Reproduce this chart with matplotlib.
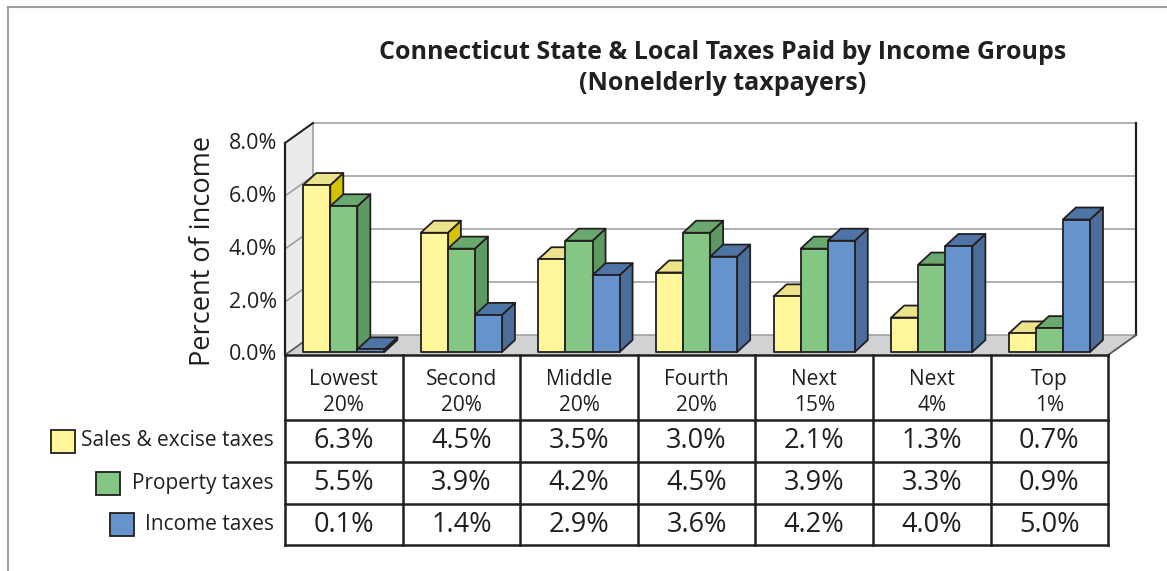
import matplotlib
matplotlib.use("Agg")
import matplotlib.pyplot as plt
from matplotlib.patches import Polygon, Rectangle

plt.rcParams['font.family'] = ['Open Sans', 'DejaVu Sans']

# ---------------- data ----------------
groups = ["Lowest\n20%", "Second\n20%", "Middle\n20%", "Fourth\n20%",
          "Next\n15%", "Next\n4%", "Top\n1%"]
series_names = ["Sales & excise taxes", "Property taxes", "Income taxes"]
sales = [6.3, 4.5, 3.5, 3.0, 2.1, 1.3, 0.7]
prop = [5.5, 3.9, 4.2, 4.5, 3.9, 3.3, 0.9]
income = [0.1, 1.4, 2.9, 3.6, 4.2, 4.0, 5.0]
yticks = [0, 2, 4, 6, 8]
title = "Connecticut State & Local Taxes Paid by Income Groups\n(Nonelderly taxpayers)"
ylabel = "Percent of income"

# ---------------- styles ----------------
W, H = 1167, 571
front_cols = ["#fff599", "#84c784", "#6693cc"]
top_cols = ["#ede38a", "#6aa96d", "#4f75a6"]
side_cols = ["#d4c400", "#5f9962", "#4b6d9b"]
EDGE = "#231f20"
TXT = "#231f20"

fig = plt.figure(figsize=(W / 100, H / 100), dpi=100)
ax = fig.add_axes([0, 0, 1, 1])
ax.set_axis_off()

# mapping of data to pixels: x group units, y percent
X0, PXX = 285.0, 117.6
Y0, PXY = 355.0, 26.5
ax.set_xlim(-X0 / PXX, (W - X0) / PXX)
ax.set_ylim(-(H - Y0) / PXY, Y0 / PXY)

n = len(groups)
ymax = yticks[-1]
ddx, ddy = 28 / PXX, 20 / PXY        # wall depth
bdx, bdy = 13 / PXX, 12 / PXY        # bar depth
base = 0.15 * ddy                    # bars slightly behind front edge
bw = 0.23


def pix(x, y):
    """pixel (from top-left) -> figure fraction"""
    return x / W, 1 - y / H


# walls and floor
ax.add_patch(Polygon([(0, 0), (0, ymax), (ddx, ymax + ddy), (ddx, ddy)],
                     closed=True, facecolor="#ebebeb", edgecolor="none", zorder=1))
ax.add_patch(Polygon([(ddx, ddy), (n + ddx, ddy), (n + ddx, ymax + ddy), (ddx, ymax + ddy)],
                     closed=True, facecolor="white", edgecolor="none", zorder=1))
ax.add_patch(Polygon([(0, 0), (n, 0), (n + ddx, ddy), (ddx, ddy)],
                     closed=True, facecolor="#d1d2d4", edgecolor="none", zorder=1))
for yv in yticks[1:]:
    ax.plot([0, ddx, n + ddx], [yv, yv + ddy, yv + ddy], color="#9a9a9a", lw=1.1, zorder=2)
ax.plot([ddx, ddx], [ddy, ymax + ddy], color="#9a9a9a", lw=1.1, zorder=2)
ax.plot([ddx, n + ddx], [ddy, ddy], color="#9a9a9a", lw=1.1, zorder=2)
ax.plot([n + ddx, n + ddx], [ddy, ymax + ddy], color=EDGE, lw=1.6, zorder=2)
ax.plot([n, n + ddx], [0, ddy], color="#555555", lw=1.3, zorder=2)
ax.plot([0, ddx], [ymax, ymax + ddy], color=EDGE, lw=1.4, zorder=2)
ax.plot([0, ddx], [0, ddy], color="#555555", lw=1.2, zorder=2)
ax.plot([0, 0], [0, ymax], color=EDGE, lw=1.6, zorder=6)
ax.plot([0, n], [0, 0], color=EDGE, lw=1.8, zorder=6)

# bars
all_vals = [sales, prop, income]
z = 3
for i in range(n):
    for j, vals in enumerate(all_vals):
        v = vals[i]
        xl = i + 0.5 + (j - 1.5) * bw
        yb, yt = base, base + v
        kw = dict(edgecolor=EDGE, lw=1.3, joinstyle="round", zorder=z)
        ax.add_patch(Polygon([(xl + bw, yb), (xl + bw + bdx, yb + bdy),
                              (xl + bw + bdx, yt + bdy), (xl + bw, yt)],
                             closed=True, facecolor=side_cols[j], **kw))
        ax.add_patch(Polygon([(xl, yt), (xl + bw, yt), (xl + bw + bdx, yt + bdy),
                              (xl + bdx, yt + bdy)],
                             closed=True, facecolor=top_cols[j], **kw))
        ax.add_patch(Rectangle((xl, yb), bw, v, facecolor=front_cols[j], **kw))
        z += 0.01

# y tick labels
for yv in yticks:
    ax.text(-8 / PXX, yv, f"{yv:.1f}%", ha="right", va="center",
            fontsize=15.5, color=TXT)
fig.text(*pix(203, 251), ylabel, rotation=90, ha="center", va="center",
         fontsize=19.5, color=TXT)

# title
fig.text(*pix(723, 68), title, ha="center", va="center", fontsize=18,
         fontweight="bold", color=TXT, linespacing=1.3)

# table
row_edges = [355, 420, 462, 504, 545]
row_lines_y = [(Y0 - p) / PXY for p in row_edges]
ytop, ybot = row_lines_y[0], row_lines_y[-1]
for k in range(n + 1):
    ax.plot([k, k], [ytop, ybot], color=EDGE, lw=1.8, zorder=6, solid_capstyle="projecting")
for yy in row_lines_y[1:]:
    ax.plot([0, n], [yy, yy], color=EDGE, lw=1.8, zorder=6, solid_capstyle="projecting")

for i, g in enumerate(groups):
    ax.text(i + 0.5, (Y0 - 392.5) / PXY, g, ha="center", va="center", fontsize=15,
            color=TXT, linespacing=1.28)
    for r, vals in enumerate(all_vals):
        yc = (row_edges[r + 1] + row_edges[r + 2]) / 2
        ax.text(i + 0.5, (Y0 - yc) / PXY, f"{vals[i]:.1f}%", ha="center", va="center",
                fontsize=19.5, color=TXT)

# legend
sq_x = [51, 96, 110]
for r, name in enumerate(series_names):
    yc = (row_edges[r + 1] + row_edges[r + 2]) / 2
    x0, y0 = pix(sq_x[r], yc + 11.5)
    fig.patches.append(Rectangle((x0, y0), 24 / W, 23 / H, transform=fig.transFigure,
                                 facecolor=front_cols[r], edgecolor=EDGE, lw=1.3))
    fig.text(*pix(274, yc), name, ha="right", va="center", fontsize=15, color=TXT)

# frame
fig.add_artist(plt.Line2D([8 / W, 8 / W], [0, 1 - 7 / H], transform=fig.transFigure,
                          color="#a0a0a0", lw=1.5))
fig.add_artist(plt.Line2D([8 / W, 1], [1 - 7 / H, 1 - 7 / H], transform=fig.transFigure,
                          color="#a0a0a0", lw=1.5))

fig.savefig("out.png", dpi=100)
